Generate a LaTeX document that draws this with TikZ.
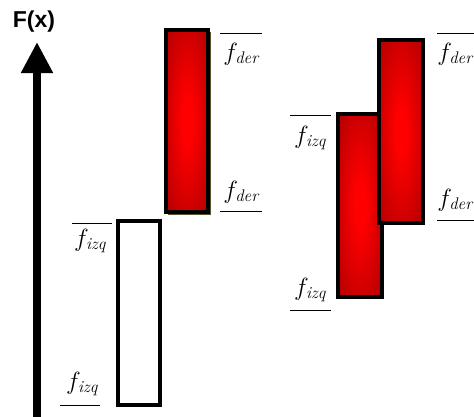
\documentclass[tikz,border=0pt]{standalone}
\usepackage{fontspec}
\newfontfamily\axfont{Liberation Sans}
\usetikzlibrary{arrows.meta}
\definecolor{darkred}{RGB}{140,0,0}
\pgfdeclareradialshading{redglow}{\pgfpoint{0bp}{0bp}}{color(0bp)=(red); color(6bp)=(red); color(50bp)=(darkred); color(75bp)=(darkred)}
\begin{document}
\begin{tikzpicture}[x=1pt,y=-1pt,
  bar/.style={draw=black,line width=3.5pt,anchor=north west,inner sep=0pt,outer sep=0pt},
  redbar/.style={bar,shading=redglow},
  lbl/.style={inner sep=0pt,font=\fontsize{24}{26}\selectfont},
  tick/.style={line width=1pt}]
\useasboundingbox (0,0) rectangle (474,416);
% axis
\coordinate (axb) at (37,418);
\coordinate (axt) at (37,42);
\draw[line width=8pt,-{Triangle[width=30pt,length=31pt]}] (axb) -- (axt);
\node[font=\axfont\fontsize{23}{25}\selectfont\bfseries,inner sep=0pt] (fx) at (34,22) {F(x)};
% left chart
\node[bar,fill=white,minimum width=42pt,minimum height=184pt] (A) at (118,221) {};
\fill[olive!50!black] (168,32) rectangle (211,215);
\node[redbar,minimum width=42pt,minimum height=182pt] (B) at (166,30) {};
% right chart
\node[redbar,minimum width=44pt,minimum height=183pt] (C) at (338,114) {};
\node[redbar,minimum width=44pt,minimum height=183pt] (D) at (379,40) {};
% labels
\node[lbl] (a1) at (90,241) {$f_{\mathit{izq}}$};
\draw[tick] (72,223) -- (112,223);
\node[lbl] (a2) at (82,384) {$f_{\mathit{izq}}$};
\draw[tick] (60,405) -- (100,405);
\node[lbl] (b1) at (241,54) {$f_{\mathit{der}}$};
\draw[tick] (220,33) -- (262,33);
\node[lbl] (b2) at (241,192) {$f_{\mathit{der}}$};
\draw[tick] (220,211) -- (262,211);
\node[lbl] (c1) at (310,138) {$f_{\mathit{izq}}$};
\draw[tick] (290,115) -- (331,115);
\node[lbl] (c2) at (310,290) {$f_{\mathit{izq}}$};
\draw[tick] (290,310) -- (331,310);
\node[lbl] (d1) at (455,54) {$f_{\mathit{der}}$};
\draw[tick] (437,33) -- (474,33);
\node[lbl] (d2) at (455,200) {$f_{\mathit{der}}$};
\draw[tick] (437,220) -- (474,220);
\end{tikzpicture}
\end{document}
